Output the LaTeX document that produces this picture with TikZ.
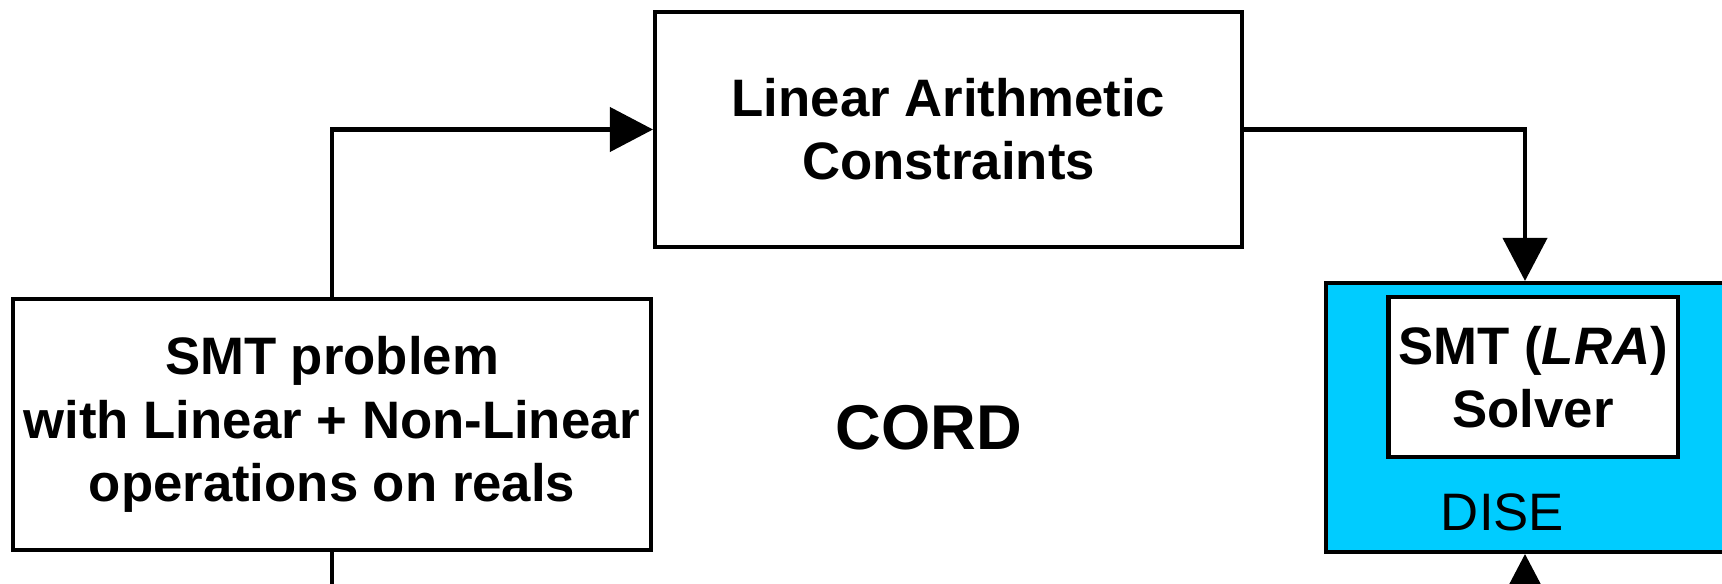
\documentclass[tikz,border=0pt]{standalone}
\usepackage{fontspec}
\setmainfont{Liberation Sans}
\usetikzlibrary{arrows.meta}
\definecolor{diseblue}{RGB}{0,204,255}

\begin{document}
\begin{tikzpicture}[
		box/.style={rectangle, draw, fill=white, line width=2.3pt, inner sep=0pt, align=center, font=\fontsize{30}{36}\selectfont\bfseries},
		r/.style={-{Triangle[length=0.86cm, width=0.88cm]}, line width=2.3pt},
		]
		\clip (0, 0) rectangle (34.44, 11.66);

		% DISE block with the solver inside
		\node[draw, fill=diseblue, line width=2.3pt, minimum width=10cm, minimum height=5.38cm, anchor=south west] (dise) at (26.48, 0.58) {};
		\node[font=\fontsize{30}{36}\selectfont] (diselbl) at (30.05, 1.41) {DISE};
		\node[box, minimum width=5.78cm, minimum height=3.2cm] (solver) at (30.66, 4.12) {SMT (\textit{LRA})\\Solver};

		\node[box, minimum width=11.74cm, minimum height=4.7cm] (lin) at (18.97, 9.07) {Linear Arithmetic\\Constraints};
		\node[box, minimum width=12.76cm, minimum height=5.02cm] (prob) at (6.64, 3.17) {SMT problem\\with Linear + Non-Linear\\operations on reals};
		\node[font=\fontsize{36}{43}\selectfont\bfseries] (cord) at (18.58, 3.1) {CORD};

		\coordinate (drop) at (30.5, 9.07);
		\coordinate (feed) at (30.5, -1);
		\coordinate (exit) at (6.64, -1);

		\draw[r] (prob.north) |- (lin.west);
		\draw[r] (lin.east) -| (drop |- dise.north);
		\draw[r] (feed) -- (feed |- dise.south);
		\draw[line width=2.3pt] (prob.south) -- (exit);
\end{tikzpicture}
\end{document}
